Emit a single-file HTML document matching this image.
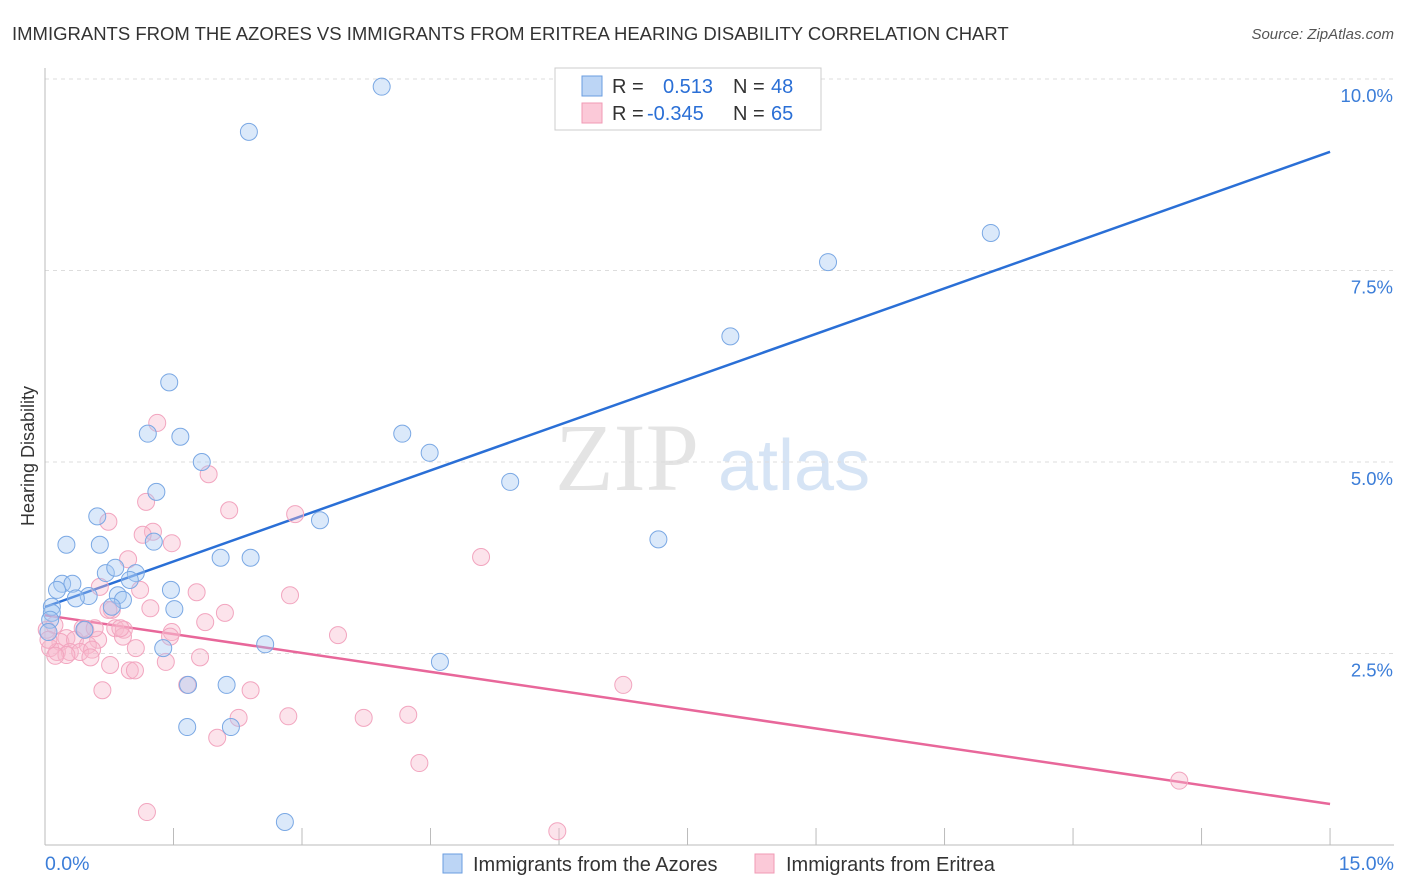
<!DOCTYPE html>
<html><head><meta charset="utf-8"><style>
body{margin:0;background:#fff;font-family:"Liberation Sans",sans-serif;}
svg{display:block}
</style></head><body>
<svg id="chart" width="1406" height="892">
<text x="12" y="40" font-size="18.5" fill="#333">IMMIGRANTS FROM THE AZORES VS IMMIGRANTS FROM ERITREA HEARING DISABILITY CORRELATION CHART</text>
<text x="1394" y="39" font-size="15" fill="#555" font-style="italic" text-anchor="end">Source: ZipAtlas.com</text>
<text transform="translate(34,456) rotate(-90)" font-size="18" fill="#333" text-anchor="middle">Hearing Disability</text>
<text x="555" y="490" font-size="96" fill="#e4e4e4" font-family="Liberation Serif">ZIP</text>
<text x="718" y="490" font-size="72" fill="#d6e4f5">atlas</text>
<g id="grid"></g><g id="axes"></g><g id="lines"></g><g id="pts"></g>
<g>
<rect x="555" y="68" width="266" height="62" fill="#fff" stroke="#ccc"/>
<rect x="582" y="76" width="20" height="20" fill="#bcd5f5" stroke="#6a9de0"/>
<rect x="582" y="103" width="20" height="20" fill="#fbc9d8" stroke="#f09ab5"/>
<text x="612" y="93" font-size="20" fill="#333">R = </text><text x="663" y="93" font-size="20" fill="#2a6fd6">0.513</text>
<text x="733" y="93" font-size="20" fill="#333">N = </text><text x="771" y="93" font-size="20" fill="#2a6fd6">48</text>
<text x="612" y="120" font-size="20" fill="#333">R = </text><text x="647" y="120" font-size="20" fill="#2a6fd6">-0.345</text>
<text x="733" y="120" font-size="20" fill="#333">N = </text><text x="771" y="120" font-size="20" fill="#2a6fd6">65</text>
</g>
<g>
<rect x="443" y="854" width="19" height="19" fill="#bcd5f5" stroke="#6a9de0"/>
<text x="473" y="871" font-size="20" fill="#333">Immigrants from the Azores</text>
<rect x="755" y="854" width="19" height="19" fill="#fbc9d8" stroke="#f09ab5"/>
<text x="786" y="871" font-size="20" fill="#333">Immigrants from Eritrea</text>
</g>
</svg>
<script>
const yTicks=[2.5,5,7.5,10];
const yTickLabels=["2.5%","5.0%","7.5%","10.0%"];
const xTickVals=[0,1.5,3,4.5,6,7.5,9,10.5,12,13.5,15];
const azoresX=[3.93,2.38,11.04,9.14,8.00,1.45,4.17,1.20,1.58,4.49,1.83,5.43,1.30,0.61,3.21,7.16,1.27,0.25,0.64,2.05,2.40,0.71,0.82,1.06,0.99,0.20,0.32,0.14,1.47,0.51,0.36,0.85,0.91,0.78,0.08,1.51,0.08,0.46,2.57,1.38,1.67,2.12,4.61,1.66,2.17,2.80,0.06,0.04];
const azoresY=[9.90,9.31,7.99,7.61,6.64,6.04,5.37,5.37,5.33,5.12,5.00,4.74,4.61,4.29,4.24,3.99,3.96,3.92,3.92,3.75,3.75,3.55,3.62,3.55,3.46,3.41,3.41,3.33,3.33,3.25,3.22,3.26,3.20,3.11,3.11,3.08,3.03,2.81,2.62,2.57,2.09,2.09,2.39,1.54,1.54,0.30,2.94,2.78];
const eritreaX=[1.31,1.91,1.18,2.15,2.92,0.74,1.26,1.14,1.48,5.09,0.97,0.64,1.11,1.77,2.86,1.23,2.10,0.78,1.87,0.11,0.02,0.44,0.82,0.92,1.48,0.91,1.46,3.42,0.62,0.25,0.18,0.35,0.50,0.06,0.14,0.29,0.41,0.55,1.06,0.25,0.12,0.76,1.41,1.81,0.53,0.99,1.05,0.67,2.40,6.75,2.26,2.84,3.72,4.24,2.01,4.37,13.24,1.19,5.98,1.66,0.74,0.88,0.04,0.47,0.58];
const eritreaY=[5.51,4.84,4.48,4.37,4.32,4.22,4.09,4.05,3.94,3.76,3.73,3.37,3.33,3.30,3.26,3.09,3.03,3.07,2.91,2.87,2.81,2.83,2.83,2.81,2.78,2.72,2.72,2.74,2.68,2.70,2.65,2.68,2.61,2.57,2.52,2.52,2.52,2.55,2.57,2.48,2.47,2.35,2.39,2.45,2.45,2.28,2.28,2.02,2.02,2.09,1.66,1.68,1.66,1.70,1.40,1.07,0.84,0.43,0.18,2.09,3.07,2.83,2.68,2.81,2.83];
const azoresTrend=[3.107,9.05];
const eritreaTrend=[3.0,0.535];
const NS="http://www.w3.org/2000/svg";
const sx=v=>45+v*85.67, sy=v=>845-v*76.6;
function mk(tag,attrs,parent){const e=document.createElementNS(NS,tag);for(const k in attrs)e.setAttribute(k,attrs[k]);parent.appendChild(e);return e;}
const grid=document.getElementById('grid'),axes=document.getElementById('axes'),lines=document.getElementById('lines'),pts=document.getElementById('pts');
yTicks.forEach((t,i)=>{
 const l=mk('line',{x1:45,x2:1394,y1:sy(t),y2:sy(t),stroke:'#ddd','stroke-dasharray':'4,4'},grid);
 
 
 const tx=mk('text',{x:1393,y:sy(t)+23,'font-size':18.5,fill:'#3b7dd8','text-anchor':'end'},grid);
 tx.textContent=yTickLabels[i];
 
 
});
const la=mk('line',{x1:45,x2:45,y1:68,y2:845,stroke:'#bbb'},axes);


const lb=mk('line',{x1:45,x2:1394,y1:845,y2:845,stroke:'#bbb'},axes);


xTickVals.forEach(v=>{const t=mk('line',{x1:sx(v),x2:sx(v),y1:828,y2:845,stroke:'#bbb'},axes);
 
 });
[[0,"0.0%","start",45],[15,"15.0%","end",1394]].forEach(a=>{const t=mk('text',{x:a[3],y:870,'font-size':19.5,fill:'#3b7dd8','text-anchor':a[2]},axes);t.textContent=a[1];
 
 });
function dots(X,Y,fill,stroke,name){X.forEach((x,i)=>{const c=mk('circle',{cx:sx(x),cy:sy(Y[i]),r:8.5,fill:fill,stroke:stroke,'stroke-width':1},pts);
 
 });}
dots(eritreaX,eritreaY,'rgba(248,185,205,0.4)','#f2a5bf','eritrea-point');
dots(azoresX,azoresY,'rgba(165,200,242,0.4)','#7aa8e4','azores-point');
const t1=mk('line',{x1:sx(0),y1:sy(azoresTrend[0]),x2:sx(15),y2:sy(azoresTrend[1]),stroke:'#2a6fd6','stroke-width':2.5},lines);


const t2=mk('line',{x1:sx(0),y1:sy(eritreaTrend[0]),x2:sx(15),y2:sy(eritreaTrend[1]),stroke:'#e8679a','stroke-width':2.5},lines);


</script>
</body></html>
